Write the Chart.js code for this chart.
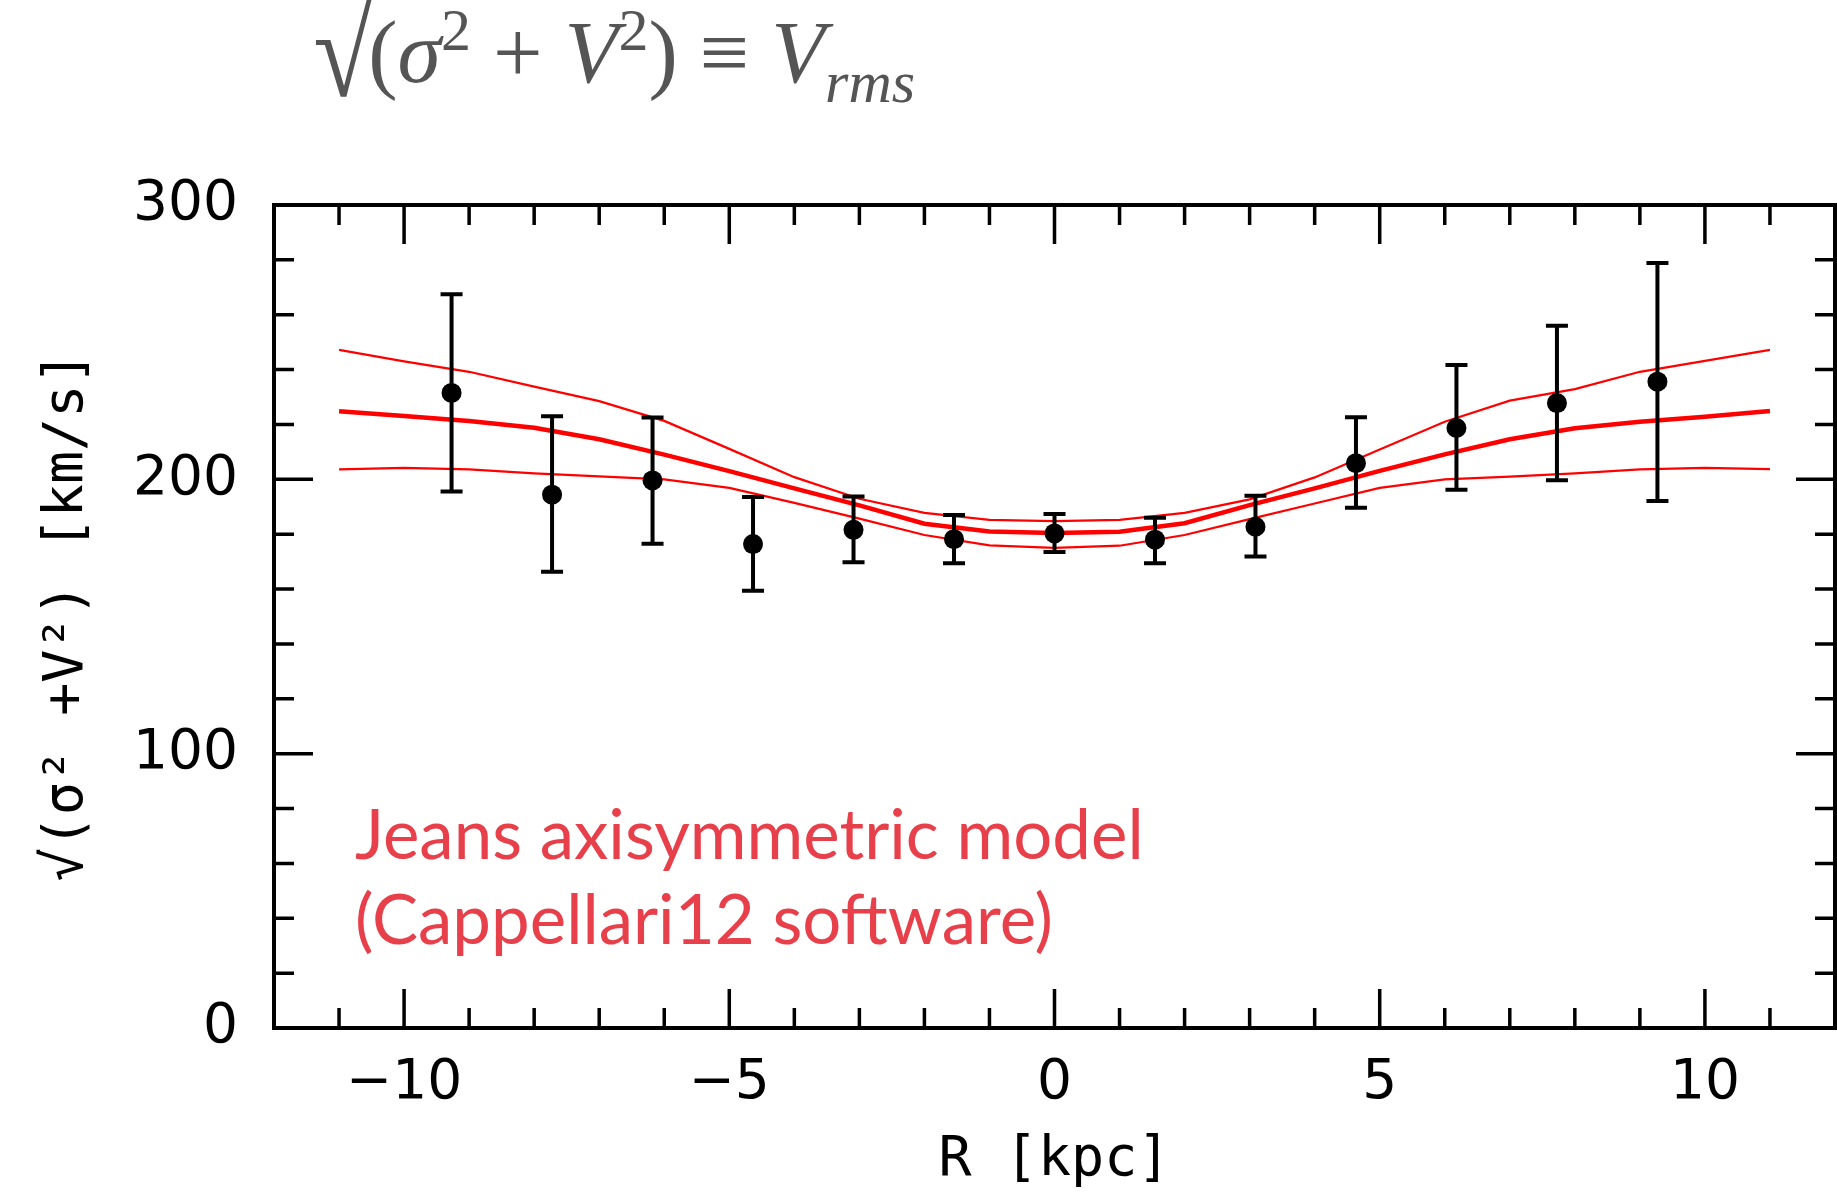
<!DOCTYPE html>
<html lang="en">
<head>
<meta charset="UTF-8">
<title>Vrms profile</title>
<style>
    html, body {
        margin: 0;
        padding: 0;
        background: #fff;
    }
    body {
        width: 1837px;
        height: 1195px;
        position: relative;
        overflow: hidden;
    }
    #vrmsChart {
        position: absolute;
        left: 0;
        top: 0;
    }
    .formula {
        position: absolute;
        left: 308px;
        top: 9px;
        font-family: "Liberation Serif", serif;
        font-size: 88px;
        line-height: 88px;
        color: #555;
        white-space: nowrap;
    }
    .formula .rad {
        display: inline-block;
        font-size: 128px;
        line-height: 0;
        position: relative;
        top: 14px;
        transform: scaleX(0.85);
        margin-right: -10px;
    }
    .formula .sup {
        font-size: 60px;
        line-height: 0;
        position: relative;
        top: -32px;
    }
    .formula .sub {
        font-size: 60px;
        line-height: 0;
        position: relative;
        top: 20px;
        font-style: italic;
    }
    .note {
        position: absolute;
        left: 355px;
        top: 790px;
        font-family: Lato, sans-serif;
        font-size: 69px;
        line-height: 85px;
        color: #e8404a;
        white-space: nowrap;
    }
</style>
<script src="https://cdn.jsdelivr.net/npm/chart.js"></script>
</head>
<body>
<canvas id="vrmsChart" width="1837" height="1195"></canvas>
<div class="formula"><span class="rad">√</span>(<i>σ</i><span class="sup">2</span> + <i>V</i><span class="sup">2</span>) ≡ <i>V</i><span class="sub">rms</span></div>
<div class="note">Jeans axisymmetric model<br>(Cappellari12 software)</div>
<script>
// measured points (R in kpc, Vrms in km/s) with error bar ends
const radius = [-9.27, -7.725, -6.18, -4.635, -3.09, -1.545, 0, 1.545, 3.09, 4.635, 6.18, 7.725, 9.27];
const vrms = [231.5, 194.4, 199.6, 176.4, 181.6, 178.2, 180.3, 178.0, 182.7, 205.9, 218.7, 227.8, 235.6];
const vrmsHigh = [267.5, 223.0, 222.5, 193.6, 193.7, 187.0, 187.4, 186.0, 194.0, 222.6, 241.7, 256.0, 278.9];
const vrmsLow = [195.6, 166.3, 176.5, 159.4, 169.8, 169.4, 173.5, 169.4, 171.9, 189.6, 196.2, 199.7, 192.1];

// Jeans model curves
const modelR = [-11, -10, -9, -8, -7, -6, -5, -4, -3, -2, -1, 0, 1, 2, 3, 4, 5, 6, 7, 8, 9, 10, 11];
const modelMid = [224.8, 223.1, 221.3, 218.8, 214.6, 209.0, 203.0, 196.7, 190.5, 183.8, 181.0, 180.4,
    180.9, 184.0, 190.6, 196.7, 203.1, 209.1, 214.6, 218.6, 221.0, 222.8, 224.9];
const modelUpper = [247.2, 243.0, 239.2, 233.8, 228.5, 221.3, 211.1, 200.8, 192.9, 187.8, 185.2, 184.8,
    185.2, 187.8, 192.7, 200.7, 210.9, 221.0, 228.7, 232.9, 239.2, 243.2, 247.2];
const modelLower = [203.6, 204.2, 203.6, 202.2, 201.1, 200.0, 196.9, 191.4, 185.7, 179.7, 175.9, 175.0,
    175.8, 179.7, 185.5, 191.2, 196.9, 200.0, 201.0, 202.2, 203.6, 204.2, 203.7];

// axis ticks
const xMajorTicks = [-10, -5, 0, 5, 10];
const xMinorTicks = [-11, -9, -8, -7, -6, -4, -3, -2, -1, 1, 2, 3, 4, 6, 7, 8, 9, 11];
const yMajorTicks = [0, 100, 200, 300];
const yMinorTicks = [20, 40, 60, 80, 120, 140, 160, 180, 220, 240, 260, 280];

const toXY = (xs, ys) => xs.map((x, i) => ({x: x, y: ys[i]}));

const errorBars = {
    id: 'errorBars',
    beforeDatasetDraw(chart, args) {
        if (args.index !== 0) return;
        const ctx = chart.ctx;
        const xs = chart.scales.x, ys = chart.scales.y;
        ctx.save();
        ctx.strokeStyle = '#000';
        ctx.lineWidth = 4;
        radius.forEach((r, i) => {
            const px = xs.getPixelForValue(r);
            const top = ys.getPixelForValue(vrmsHigh[i]);
            const bot = ys.getPixelForValue(vrmsLow[i]);
            ctx.beginPath();
            ctx.moveTo(px, top);
            ctx.lineTo(px, bot);
            ctx.moveTo(px - 11, top);
            ctx.lineTo(px + 11, top);
            ctx.moveTo(px - 11, bot);
            ctx.lineTo(px + 11, bot);
            ctx.stroke();
        });
        ctx.restore();
    }
};

// box frame with inward ticks on all four sides
const frameTicks = {
    id: 'frameTicks',
    afterDraw(chart) {
        const ctx = chart.ctx;
        const a = chart.chartArea;
        const xs = chart.scales.x, ys = chart.scales.y;
        ctx.save();
        ctx.strokeStyle = '#000';
        ctx.lineWidth = 3.5;
        ctx.beginPath();
        const tick = (vals, len) => {
            vals.forEach(v => {
                const px = xs.getPixelForValue(v);
                ctx.moveTo(px, a.bottom);
                ctx.lineTo(px, a.bottom - len);
                ctx.moveTo(px, a.top);
                ctx.lineTo(px, a.top + len);
            });
        };
        const ytick = (vals, len) => {
            vals.forEach(v => {
                const py = ys.getPixelForValue(v);
                ctx.moveTo(a.left, py);
                ctx.lineTo(a.left + len, py);
                ctx.moveTo(a.right, py);
                ctx.lineTo(a.right - len, py);
            });
        };
        tick(xMajorTicks, 39);
        tick(xMinorTicks, 20);
        ytick(yMajorTicks, 39);
        ytick(yMinorTicks, 20);
        ctx.stroke();
        ctx.lineWidth = 4;
        ctx.strokeRect(a.left, a.top, a.right - a.left, a.bottom - a.top);
        ctx.restore();
    }
};

const tickFont = {family: 'DejaVu Sans', size: 55};
const titleFont = {family: 'DejaVu Sans Mono', size: 55};

new Chart(document.getElementById('vrmsChart'), {
    type: 'scatter',
    data: {
        datasets: [
            {
                label: 'data',
                data: toXY(radius, vrms),
                backgroundColor: '#000',
                borderWidth: 0,
                pointRadius: 10,
                showLine: false,
                order: 0
            },
            {
                label: 'model upper',
                data: toXY(modelR, modelUpper),
                showLine: true,
                borderColor: '#ff0000',
                borderWidth: 2.2,
                pointRadius: 0,
                order: 1
            },
            {
                label: 'model',
                data: toXY(modelR, modelMid),
                showLine: true,
                borderColor: '#ff0000',
                borderWidth: 4.5,
                pointRadius: 0,
                order: 1
            },
            {
                label: 'model lower',
                data: toXY(modelR, modelLower),
                showLine: true,
                borderColor: '#ff0000',
                borderWidth: 2.2,
                pointRadius: 0,
                order: 1
            }
        ]
    },
    options: {
        responsive: false,
        animation: false,
        layout: {autoPadding: false, padding: {top: 205, right: 2, left: 0, bottom: 0}},
        plugins: {
            legend: {display: false},
            tooltip: {enabled: false}
        },
        scales: {
            x: {
                type: 'linear',
                min: -12,
                max: 12,
                afterBuildTicks: s => { s.ticks = xMajorTicks.map(v => ({value: v})); },
                afterFit: s => {
                    s.height = 167;
                    s.paddingLeft = 0;
                    s.paddingRight = 0;
                },
                grid: {display: false, drawTicks: false},
                border: {display: false},
                ticks: {
                    font: tickFont,
                    color: '#000',
                    padding: 23,
                    maxRotation: 0,
                    callback: v => (v < 0 ? '\u2212' + Math.abs(v) : String(v))
                },
                title: {
                    display: true,
                    text: 'R [kpc]',
                    font: titleFont,
                    color: '#000',
                    padding: {top: 0, bottom: 1}
                }
            },
            y: {
                type: 'linear',
                min: 0,
                max: 300,
                afterBuildTicks: s => { s.ticks = yMajorTicks.map(v => ({value: v})); },
                afterFit: s => {
                    s.width = 274;
                    s.paddingTop = 0;
                    s.paddingBottom = 0;
                },
                grid: {display: false, drawTicks: false},
                border: {display: false},
                ticks: {
                    font: tickFont,
                    color: '#000',
                    padding: 36
                },
                title: {
                    display: true,
                    text: '\u221A(\u03C3\u00B2 +V\u00B2) [km/s]',
                    font: titleFont,
                    color: '#000',
                    padding: {top: 35, bottom: 0}
                }
            }
        }
    },
    plugins: [errorBars, frameTicks]
});
</script>
</body>
</html>
